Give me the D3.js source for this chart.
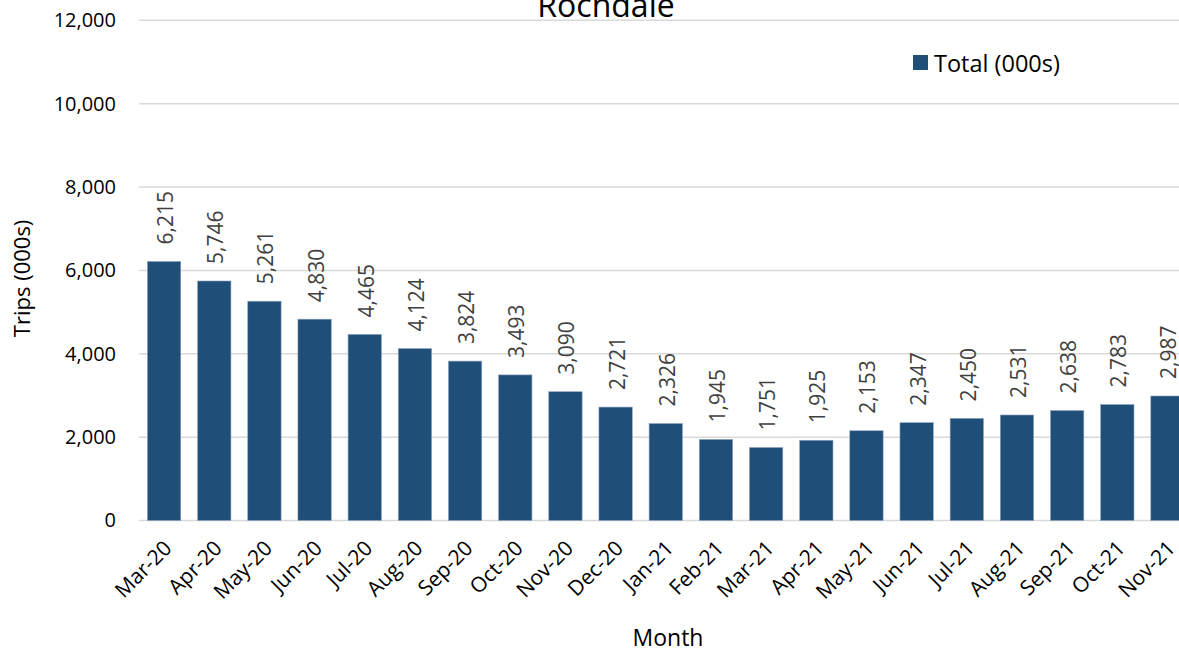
<!DOCTYPE html>
<html><head><meta charset="utf-8">
<script src="https://cdn.jsdelivr.net/npm/d3@7"></script>
<style>body{margin:0;background:#fff;}svg{display:block;font-family:"Open Sans",sans-serif;}</style>
</head><body>
<svg id="c" width="1179" height="652"></svg>
<script>
const months = ["Mar-20","Apr-20","May-20","Jun-20","Jul-20","Aug-20","Sep-20","Oct-20","Nov-20","Dec-20","Jan-21","Feb-21","Mar-21","Apr-21","May-21","Jun-21","Jul-21","Aug-21","Sep-21","Oct-21","Nov-21"];
const totals = [6215,5746,5261,4830,4465,4124,3824,3493,3090,2721,2326,1945,1751,1925,2153,2347,2450,2531,2638,2783,2987];
const yTicks = [0,2000,4000,6000,8000,10000,12000];
const seriesName = "Total (000s)";
const title = "Rochdale";

(function(){
const svg = d3.select("#c");
const pL = 139, pR = 139 + 21*50.17, pT = 20.3, pB = 520.5;
const x = d3.scaleBand().domain(months).range([pL, pR]).paddingInner(0.335).paddingOuter(0.1675);
const y = d3.scaleLinear().domain([0,12000]).range([pB, pT]);
const fmt = d3.format(",");

svg.append("g").selectAll("line").data(yTicks).join("line")
  .attr("x1", pL).attr("x2", 1179)
  .attr("y1", d=>y(d)).attr("y2", d=>y(d))
  .attr("stroke", "#d9d9d9").attr("stroke-width", 1.5);

const ya = svg.append("g").attr("transform", `translate(${pL},0)`)
  .call(d3.axisLeft(y).tickValues(yTicks).tickFormat(fmt).tickSize(0).tickPadding(23));
ya.select(".domain").remove();
ya.selectAll("text").attr("font-size", 20).attr("fill", "#000").attr("font-family", "Open Sans");

svg.append("g").selectAll("rect").data(totals).join("rect")
  .attr("x", (d,i)=>x(months[i])).attr("width", x.bandwidth())
  .attr("y", d=>y(d)).attr("height", d=>pB - y(d))
  .attr("fill", "#1f4e79").attr("stroke", "#8fa6bf").attr("stroke-width", 0.6);

svg.append("g").selectAll("text").data(totals).join("text")
  .attr("transform", (d,i)=>`translate(${x(months[i]) + x.bandwidth()/2 + 1},${y(d) - 17}) rotate(-90)`)
  .attr("dominant-baseline", "central")
  .attr("font-size", 21).attr("fill", "#404040")
  .text(d=>fmt(d));

const xa = svg.append("g").attr("transform", `translate(0,${pB})`)
  .call(d3.axisBottom(x).tickSize(0).tickPadding(0));
xa.select(".domain").remove();
xa.selectAll("text")
  .attr("font-size", 21).attr("fill", "#000").attr("font-family", "Open Sans")
  .attr("text-anchor", "end").attr("dy", null).attr("y", 0)
  .attr("transform", "translate(9,29) rotate(-45)");

svg.append("text").attr("x", 668).attr("y", 646).attr("text-anchor", "middle")
  .attr("font-size", 23).attr("fill", "#000").text("Month");
svg.append("text").attr("transform", `translate(30,${(pT+pB)/2+8}) rotate(-90)`)
  .attr("text-anchor", "middle").attr("font-size", 22).attr("fill", "#000").text("Trips (000s)");

svg.append("text").attr("x", 606).attr("y", 17).attr("text-anchor", "middle")
  .attr("font-size", 32).attr("fill", "#000").text(title);

const lg = svg.append("g").attr("transform", "translate(913,55)");
lg.append("rect").attr("width", 15).attr("height", 15).attr("fill", "#1f4e79");
lg.append("text").attr("x", 21).attr("y", 7.5).attr("dominant-baseline", "central")
  .attr("font-size", 23.5).attr("fill", "#000").text(seriesName);
})();
</script>
</body></html>
